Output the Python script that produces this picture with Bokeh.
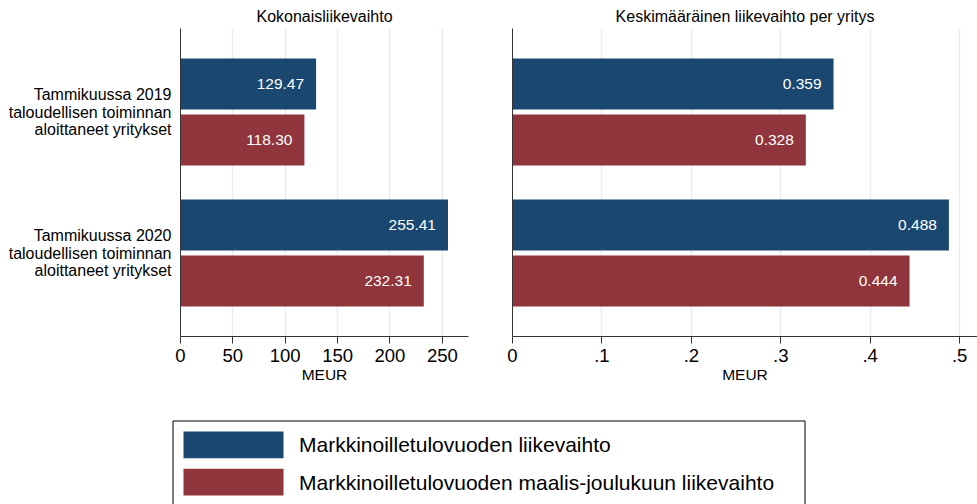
from bokeh.plotting import figure
from bokeh.models import Range1d, FixedTicker, ColumnDataSource
from bokeh.layouts import column, row
from bokeh.embed import file_html
from bokeh.resources import INLINE
from bokeh.core.properties import value

# ---------------- data ----------------
group_labels = [
    "Tammikuussa 2019\ntaloudellisen toiminnan\naloittaneet yritykset",
    "Tammikuussa 2020\ntaloudellisen toiminnan\naloittaneet yritykset",
]
total_full_year = [129.47, 255.41]
total_mar_dec = [118.30, 232.31]
avg_full_year = [0.359, 0.488]
avg_mar_dec = [0.328, 0.444]
panel_titles = ["Kokonaisliikevaihto", "Keskimääräinen liikevaihto per yritys"]
x_label = "MEUR"
left_ticks = [0, 50, 100, 150, 200, 250]
left_tick_labels = ["0", "50", "100", "150", "200", "250"]
right_ticks = [0, 0.1, 0.2, 0.3, 0.4, 0.5]
right_tick_labels = ["0", ".1", ".2", ".3", ".4", ".5"]
series_labels = [
    "Markkinoilletulovuoden liikevaihto",
    "Markkinoilletulovuoden maalis-joulukuun liikevaihto",
]
colors = ["#1a476f", "#90353b"]

# ---------------- styling ----------------
FONT = "Liberation Sans"
AXIS_COLOR = "#333333"
GRID_COLOR = "#e4edf0"
group_pos = [1, 2]
BAR_OFF = 28 / 141
BAR_H = 51 / 141
Y_TOP = 1.5 - 154 / 141
Y_BOT = 1.5 + 154 / 141


def make_panel(title, s1, s2, xmax, ticks, tick_labels, fmt, width, bl, br, cats):
    p = figure(width=width, height=400,
               x_range=Range1d(0, xmax), y_range=Range1d(Y_BOT, Y_TOP),
               output_backend="svg", toolbar_location=None,
               min_border_left=bl, min_border_right=br,
               min_border_top=28, min_border_bottom=64)
    p.title.text = title
    p.title.align = "center"
    p.title.text_font = FONT
    p.title.text_font_size = "16px"
    p.title.text_font_style = "normal"
    p.title.text_color = "black"
    p.title.standoff = 7
    p.outline_line_color = None
    p.background_fill_color = "white"

    for s, col, sign in ((s1, colors[0], -1), (s2, colors[1], 1)):
        src = ColumnDataSource(dict(
            y=[g + sign * BAR_OFF for g in group_pos],
            right=s,
            lab=[fmt.format(v) for v in s],
        ))
        p.hbar(y="y", right="right", left=0, height=BAR_H, source=src,
               fill_color=col, line_color=None)
        p.text(x="right", y="y", text="lab", source=src, x_offset=-12,
               text_align="right", text_baseline="middle", text_color="white",
               text_font=value(FONT), text_font_size="15.5px")

    xa = p.xaxis[0]
    xa.ticker = FixedTicker(ticks=ticks)
    xa.major_label_overrides = {t: l for t, l in zip(ticks, tick_labels)}
    xa.major_label_text_font = FONT
    xa.major_label_text_font_size = "18.5px"
    xa.major_label_text_color = "black"
    xa.major_label_standoff = 5
    xa.major_tick_out = 7
    xa.major_tick_in = 0
    xa.minor_tick_line_color = None
    xa.axis_line_color = AXIS_COLOR
    xa.major_tick_line_color = AXIS_COLOR
    xa.axis_label = x_label
    xa.axis_label_text_font = FONT
    xa.axis_label_text_font_size = "15.5px"
    xa.axis_label_text_font_style = "normal"
    xa.axis_label_text_color = "black"
    xa.axis_label_standoff = 1

    ya = p.yaxis[0]
    ya.major_tick_out = 0
    ya.major_tick_in = 0
    ya.minor_tick_line_color = None
    ya.axis_line_color = AXIS_COLOR
    if cats:
        ya.ticker = FixedTicker(ticks=group_pos)
        ya.major_label_overrides = {g: l for g, l in zip(group_pos, group_labels)}
        ya.major_label_text_font = FONT
        ya.major_label_text_font_size = "16px"
        ya.major_label_text_color = "black"
        ya.major_label_text_align = "right"
        ya.major_label_text_line_height = 1.05
        ya.major_label_standoff = 9
    else:
        ya.ticker = FixedTicker(ticks=[])
        ya.major_label_standoff = 0

    p.xgrid.ticker = FixedTicker(ticks=ticks)
    p.xgrid.grid_line_color = GRID_COLOR
    p.xgrid.grid_line_width = 1.5
    p.ygrid.visible = False
    return p


p1 = make_panel(panel_titles[0], total_full_year, total_mar_dec, 275,
                left_ticks, left_tick_labels, "{:.2f}", 490, 180, 22, True)
p2 = make_panel(panel_titles[1], avg_full_year, avg_mar_dec, 0.52,
                right_ticks, right_tick_labels, "{:.3f}", 487, 22, 0, False)

# ---------------- legend (drawn in pixel space) ----------------
p3 = figure(width=977, height=104, x_range=Range1d(0, 977), y_range=Range1d(104, 0),
            output_backend="svg", toolbar_location=None, title=None,
            x_axis_location=None, y_axis_location=None, min_border=0)
p3.grid.visible = False
p3.outline_line_color = None
p3.quad(left=[172.5], right=[804.5], top=[20.5], bottom=[112],
        fill_color=None, line_color="black", line_width=1)
sw_top = [31, 68.3]
sw_h = 26.7
p3.quad(left=[183, 183], right=[283, 283], top=sw_top,
        bottom=[t + sw_h for t in sw_top], fill_color=colors, line_color=None)
p3.text(x=[298.5, 298.5], y=[t + sw_h / 2 for t in sw_top], text=series_labels,
        text_align="left", text_baseline="middle", text_color="black",
        text_font=value(FONT), text_font_size="21px")

layout = column(row(p1, p2), p3)
open("out.html", "w").write(file_html(layout, INLINE))
